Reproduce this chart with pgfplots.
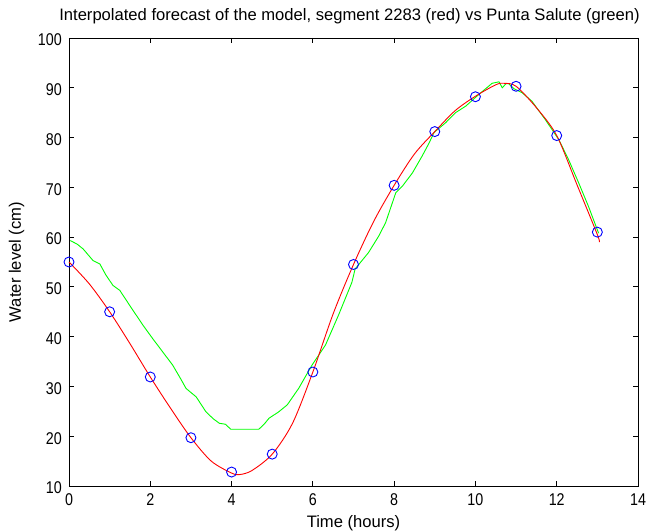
\documentclass[border=0pt]{standalone}
\usepackage{pgfplots}
\pgfplotsset{compat=1.18}
\usepackage{fontspec}
\setmainfont{Liberation Sans}
\newfontfamily\tickfont[FakeStretch=0.84]{Liberation Sans}
\begin{document}
\fontsize{17pt}{19pt}\selectfont
\begin{tikzpicture}
\begin{axis}[
  at={(0,0)}, anchor=south west,
  scale only axis, width=569pt, height=448pt,
  xmin=0, xmax=14, ymin=10, ymax=100,
  xtick={0,2,...,14}, ytick={10,20,...,100},
  tick align=inside, major tick length=5pt,
  tick style={black, line width=0.8pt},
  axis line style={black, line width=0.8pt},
  /pgf/number format/assume math mode=true,
  ticklabel style={font=\tickfont\fontsize{17pt}{19pt}\selectfont, inner sep=0pt},
  xticklabel style={anchor=base, yshift=-20pt},
  yticklabel style={anchor=east, xshift=-7pt, yshift=-2pt},
  title={Interpolated forecast of the model, segment 2283 (red) vs Punta Salute (green)},
  title style={at={(axis description cs:0.5,1)}, anchor=base, yshift=11pt, xshift=-4pt, inner sep=0pt, font=\fontsize{16.6pt}{19pt}\selectfont},
  xlabel={Time (hours)},
  xlabel style={at={(axis description cs:0.5,0)}, anchor=base, yshift=-42pt, inner sep=0pt, font=\fontsize{16.6pt}{19pt}\selectfont},
  ylabel={Water level (cm)},
  ylabel style={at={([xshift=-48pt]axis description cs:0,0.5)}, anchor=base, inner sep=0pt, font=\fontsize{16.6pt}{19pt}\selectfont},
  clip=false,
]
\addplot[color={rgb,255:red,0;green,255;blue,0}, line width=0.9pt, sharp plot] coordinates {
(0.03,59.3) (0.2,58.6) (0.35,57.6) (0.59,55.3) (0.76,54.6) (0.9,52.5) (1.08,50.3) (1.25,49.3)
(1.5,46.2) (1.82,42.3) (2.06,39.6) (2.3,37.0) (2.55,34.3) (2.75,31.5) (2.88,29.6) (3.13,27.9)
(3.37,24.9) (3.55,23.5) (3.70,22.6) (3.85,22.4) (3.98,21.4) (4.67,21.4) (4.8,22.4) (4.92,23.6)
(5.16,24.9) (5.37,26.3) (5.65,29.6) (5.98,34.3) (6.31,38.3) (6.63,44.3) (6.96,50.9) (7.04,53.6)
(7.37,56.9) (7.62,60.2) (7.79,62.9) (8.04,68.9) (8.20,70.2) (8.45,72.9) (8.69,76.3) (8.86,78.9)
(8.98,81.0) (9.27,83.0) (9.51,85.0) (9.76,86.3) (10.09,88.7) (10.41,90.9) (10.58,91.2) (10.66,90.0)
(10.75,90.8) (10.82,90.8) (10.95,89.8) (11.15,89.0) (11.39,87.3) (11.72,83.6) (12.05,79.6)
(12.29,75.6) (12.54,70.9) (12.78,66.2) (13.03,60.8)
};
\addplot[color=red, line width=0.9pt, smooth, tension=0.5] coordinates {
(0,55.0) (0.5,50.6) (1,45.0) (1.5,38.6) (2,31.9) (2.5,25.6) (3,19.7) (3.5,15.0) (4,12.6)
(4.2,12.3) (4.5,13.1) (5,16.4) (5.5,22.6) (6,32.9) (6.5,44.6) (7,54.5) (7.5,63.2) (8,70.4)
(8.5,76.7) (9,81.2) (9.5,85.4) (10,88.3) (10.5,90.6) (10.7,90.9) (11,90.3) (11.5,86.0)
(12,80.4) (12.5,70.5) (13,60.5) (13.05,59.0)
};
\addplot[only marks, mark=o, mark size=5pt, color=blue, mark options={line width=0.9pt}] coordinates {
(0,55.0) (1,45.0) (2,31.9) (3,19.7) (4,12.8) (5,16.4) (6,32.9) (7,54.5) (8,70.4)
(9,81.2) (10,88.2) (11,90.3) (12,80.4) (13,61.0)
};
\end{axis}
\pgfresetboundingbox
\path[use as bounding box] (-69pt,-46pt) rectangle (577pt,486pt);
\end{tikzpicture}
\end{document}
